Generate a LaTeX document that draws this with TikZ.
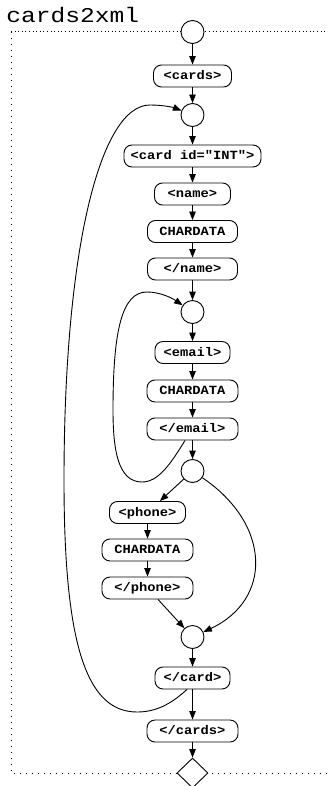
\documentclass[tikz,border=0pt]{standalone}
\usepackage{fontspec}
\usetikzlibrary{arrows.meta,shapes.geometric}
\newfontfamily\titlefont[FakeStretch=1.17]{Liberation Mono}
\newfontfamily\boxfont[FakeStretch=1.1]{Liberation Mono}
\tikzset{
  tag/.style={draw, rounded corners=8pt, minimum height=22pt, inner sep=0pt,
    font=\boxfont\bfseries\fontsize{12.5pt}{14pt}\selectfont,
    text height=7.1pt, text depth=0pt, fill=white},
  junc/.style={circle, draw, minimum size=23pt, inner sep=0pt, fill=white},
  finish/.style={diamond, draw, minimum width=31pt, minimum height=30pt, inner sep=0pt, fill=white},
  arr/.style={-{Triangle[length=8.5pt,width=6.5pt]}},
  framedots/.style={line width=1pt, dash pattern=on 1pt off 2.6pt},
  framedotsb/.style={line width=1pt, dash pattern=on 1pt off 5pt}
}
\begin{document}
\begin{tikzpicture}[x=1pt, y=-1pt, line width=0.9pt]
\useasboundingbox (0,0) rectangle (328,786);
% frame
\draw[framedots] (11,32) -- (328,32);
\draw[framedotsb] (11,32) -- (11,773) -- (328,773);
\node[anchor=base west, inner sep=0pt, font=\titlefont\fontsize{21pt}{24pt}\selectfont] (title) at (6,23) {cards2xml};
% nodes
\node[junc] (c1) at (192.5,32) {};
\node[tag, minimum width=78pt] (cards) at (192.5,76) {<cards>};
\node[junc] (c2) at (192.5,115) {};
\node[tag, minimum width=137pt] (cardid) at (192.5,156) {<card id="INT">};
\node[tag, minimum width=76pt] (name) at (192.5,194) {<name>};
\node[tag, minimum width=90pt] (cd1) at (192.5,231.5) {CHARDATA};
\node[tag, minimum width=90pt] (ename) at (192.5,269) {</name>};
\node[junc] (c3) at (192.5,312) {};
\node[tag, minimum width=75pt] (email) at (192.5,352.5) {<email>};
\node[tag, minimum width=91pt] (cd2) at (192.5,391) {CHARDATA};
\node[tag, minimum width=91pt] (eemail) at (192.5,429) {</email>};
\node[junc] (c4) at (192.5,471) {};
\node[tag, minimum width=76pt] (phone) at (147.5,512.5) {<phone>};
\node[tag, minimum width=91pt] (cd3) at (147.5,550) {CHARDATA};
\node[tag, minimum width=91pt] (ephone) at (147.5,588) {</phone>};
\node[junc] (c5) at (192.5,637) {};
\node[tag, minimum width=75pt] (ecard) at (192.5,678) {</card>};
\node[tag, minimum width=91pt] (ecards) at (192.5,731) {</cards>};
\node[finish] (end) at (192.5,773) {};
% straight edges
\draw[arr] (c1) -- (cards);
\draw[arr] (cards) -- (c2);
\draw[arr] (c2) -- (cardid);
\draw[arr] (cardid) -- (name);
\draw[arr] (name) -- (cd1);
\draw[arr] (cd1) -- (ename);
\draw[arr] (ename) -- (c3);
\draw[arr] (c3) -- (email);
\draw[arr] (email) -- (cd2);
\draw[arr] (cd2) -- (eemail);
\draw[arr] (eemail) -- (c4);
\draw[arr] (c4) -- (phone);
\draw[arr] (phone) -- (cd3);
\draw[arr] (cd3) -- (ephone);
\draw[arr] (ephone) -- (c5);
\draw[arr] (c5) -- (ecard);
\draw[arr] (ecard) -- (ecards);
\draw[arr] (ecards) -- (end);
% curved edges
\draw[arr] (c4) .. controls (272,525) and (272,600) .. (c5);
\draw[arr] ([xshift=-7.5pt]eemail.south) .. controls (170,465) and (158,482) .. (142,482)
  .. controls (118,482) and (113,450) .. (113,410)
  .. controls (113,330) and (122,292) .. (147,292)
  .. controls (160,292) and (172,298) .. (c3);
\draw[arr] ([xshift=-5.5pt]ecard.south) .. controls (170,705) and (155,712) .. (137,712)
  .. controls (85,712) and (64,640) .. (64,480)
  .. controls (64,250) and (100,105) .. (150,105)
  .. controls (165,105) and (175,108) .. (c2);
\end{tikzpicture}
\end{document}
